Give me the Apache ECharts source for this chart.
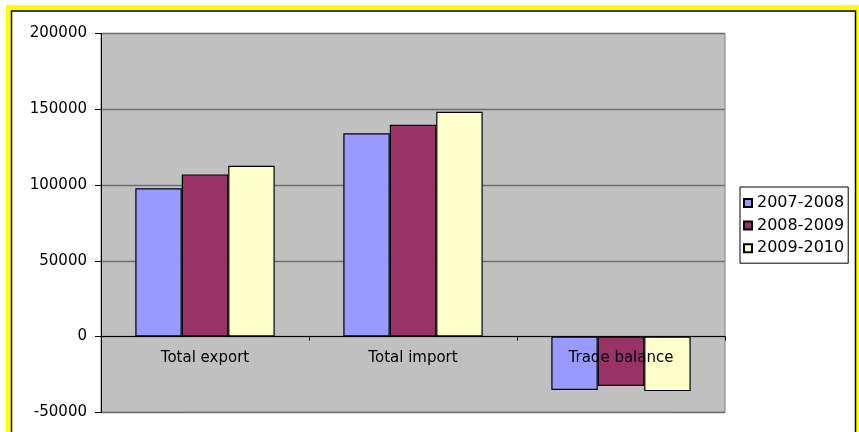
<!DOCTYPE html>
<html>
<head>
<meta charset="utf-8">
<script src="https://cdn.jsdelivr.net/npm/echarts@6/dist/echarts.min.js"></script>
<style>
  html, body { margin: 0; padding: 0; background: #fff; }
  #chart { width: 859px; height: 432px; }
</style>
</head>
<body>
<div id="chart"></div>
<script>
// Categories and yearly series
const categories = ['Total export', 'Total import', 'Trade balance'];
const seriesNames = ['2007-2008', '2008-2009', '2009-2010'];
const values2007_08 = [97900, 134100, -35200];
const values2008_09 = [107000, 139800, -32600];
const values2009_10 = [112700, 148300, -36000];
const yTicks = { min: -50000, max: 200000, step: 50000 };

const colors = ['#9999FF', '#993366', '#FFFFCC'];
const seriesValues = [values2007_08, values2008_09, values2009_10];
const font = 'DejaVu Sans';

const chart = echarts.init(document.getElementById('chart'), null, { renderer: 'canvas' });

chart.setOption({
  backgroundColor: '#ffffff',
  animation: false,
  graphic: [
    // yellow outer frame
    {
      type: 'rect', z: 100, silent: true,
      shape: { x: 8.5, y: 7.5, width: 850, height: 500 },
      style: { fill: 'none', stroke: '#FFFF00', lineWidth: 5 }
    },
    // thin dark inner line
    {
      type: 'rect', z: 100, silent: true,
      shape: { x: 11.5, y: 11, width: 844, height: 500 },
      style: { fill: 'none', stroke: '#000000', lineWidth: 1.5 }
    }
  ],
  legend: {
    orient: 'vertical',
    left: 740,
    top: 187,
    padding: [8, 4, 7, 3],
    itemGap: 6.6,
    itemWidth: 8,
    itemHeight: 8,
    icon: 'rect',
    backgroundColor: '#ffffff',
    borderColor: '#000000',
    borderWidth: 1,
    borderRadius: 0,
    textStyle: { fontFamily: font, fontSize: 16, color: '#000', lineHeight: 14 },
    data: seriesNames
  },
  grid: {
    left: 101,
    right: 134,
    top: 33.5,
    bottom: 19.7,
    show: true,
    backgroundColor: '#C0C0C0',
    borderColor: '#808080',
    borderWidth: 1
  },
  xAxis: {
    type: 'category',
    data: categories,
    z: 5,
    axisLine: { onZero: true, lineStyle: { color: '#000', width: 1 } },
    axisTick: { show: true, length: 4, lineStyle: { color: '#000' } },
    // category names sit just under the zero line
    axisLabel: { fontFamily: font, fontSize: 15, color: '#000', margin: -62 },
    splitLine: { show: false }
  },
  yAxis: {
    type: 'value',
    min: yTicks.min,
    max: yTicks.max,
    interval: yTicks.step,
    axisLine: { show: true, lineStyle: { color: '#000', width: 1 } },
    axisTick: { show: true, length: 6, lineStyle: { color: '#000' } },
    axisLabel: {
      fontFamily: font, fontSize: 15, color: '#000', margin: 14,
      formatter: (v) => String(v)
    },
    splitLine: { show: true, lineStyle: { color: '#6e6e6e', width: 1.4 } }
  },
  series: seriesNames.map((name, i) => ({
    name,
    type: 'bar',
    data: seriesValues[i],
    barGap: '0%',
    barCategoryGap: '33%',
    itemStyle: { color: colors[i], borderColor: '#000', borderWidth: 1.2 }
  }))
});
</script>
</body>
</html>
